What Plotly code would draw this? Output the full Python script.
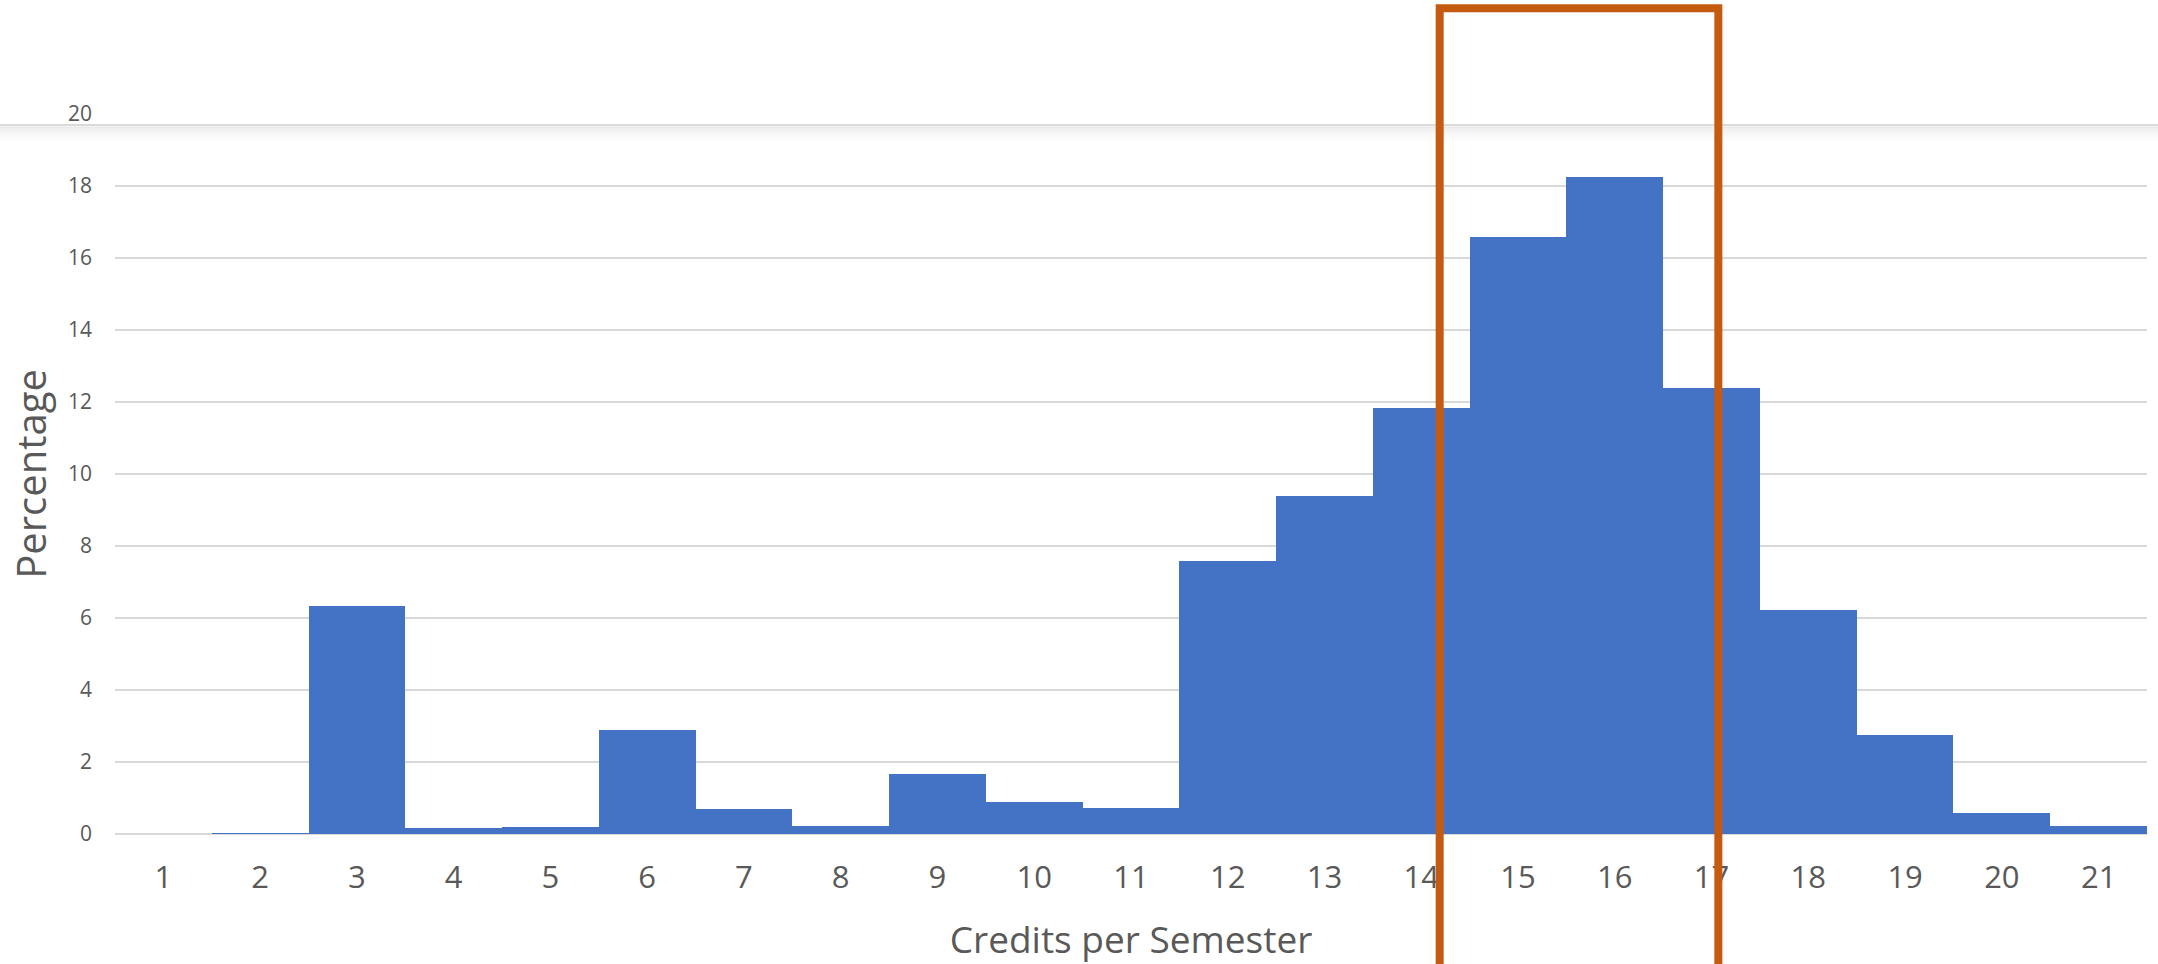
import plotly.graph_objects as go

# Credits per semester (1..21) and share of students in each bin (%)
credits = list(range(1, 22))
percentages = [0.0, 0.02, 6.32, 0.16, 0.19, 2.88, 0.69, 0.22, 1.66, 0.88, 0.72,
               7.59, 9.40, 11.84, 16.58, 18.25, 12.40, 6.22, 2.74, 0.57, 0.22]
y_ticks = list(range(0, 21, 2))

# highlighted band of credit loads
band_start, band_end = 14.19, 17.07

BAR_BLUE = "#4472C4"
GRID = "#D9D9D9"
TEXT = "#595959"
HIGHLIGHT = "#C55A11"
FONT = "Open Sans"

fig = go.Figure(
    go.Bar(
        x=credits,
        y=percentages,
        width=1,
        marker=dict(color=BAR_BLUE, line=dict(width=0)),
        showlegend=False,
    )
)

shapes = []
# thin divider strip across the top with a soft fade beneath it
shapes.append(dict(type="line", xref="paper", yref="paper",
                   x0=-0.06, x1=1.01, y0=0.9847, y1=0.9847,
                   line=dict(color="#DADADA", width=2), layer="above"))
fade = ["#EAEAEA", "#EEEEEE", "#F2F2F2", "#F5F5F5", "#F8F8F8", "#FAFAFA", "#FCFCFC", "#FEFEFE"]
step = 2 / 720
for i, col in enumerate(fade):
    top = 0.9847 - 1.5 / 720 - i * step
    shapes.append(dict(type="rect", xref="paper", yref="paper",
                       x0=-0.06, x1=1.01, y0=top - step, y1=top,
                       fillcolor=col, line=dict(width=0), layer="above"))
# highlight box around the 15-16 credit range
shapes.append(dict(type="rect", xref="x", yref="paper",
                   x0=band_start, x1=band_end, y0=-0.25, y1=1.1468,
                   line=dict(color=HIGHLIGHT, width=8), fillcolor="rgba(0,0,0,0)",
                   layer="above"))

fig.update_layout(
    width=2158,
    height=964,
    autosize=False,
    margin=dict(l=115, r=11, t=114, b=130, pad=0),
    paper_bgcolor="white",
    plot_bgcolor="white",
    bargap=0,
    font=dict(family=FONT, color=TEXT),
    shapes=shapes,
    xaxis=dict(
        range=[0.5, 21.5],
        tickmode="array",
        tickvals=credits,
        ticktext=[str(c) for c in credits],
        tickfont=dict(size=31, color=TEXT),
        ticklabelstandoff=22,
        showgrid=False,
        showline=False,
        zeroline=False,
        title=dict(text="Credits per Semester", font=dict(size=37, color=TEXT), standoff=31),
        fixedrange=True,
    ),
    yaxis=dict(
        range=[0, 20],
        tickmode="array",
        tickvals=y_ticks,
        tickfont=dict(size=21, color=TEXT),
        ticklabelstandoff=22,
        showgrid=True,
        gridcolor=GRID,
        gridwidth=1.5,
        zeroline=True,
        zerolinecolor=GRID,
        zerolinewidth=2,
        showline=False,
        title=dict(text="Percentage", font=dict(size=40, color=TEXT), standoff=8),
        fixedrange=True,
    ),
)

fig.write_html("out.html")
